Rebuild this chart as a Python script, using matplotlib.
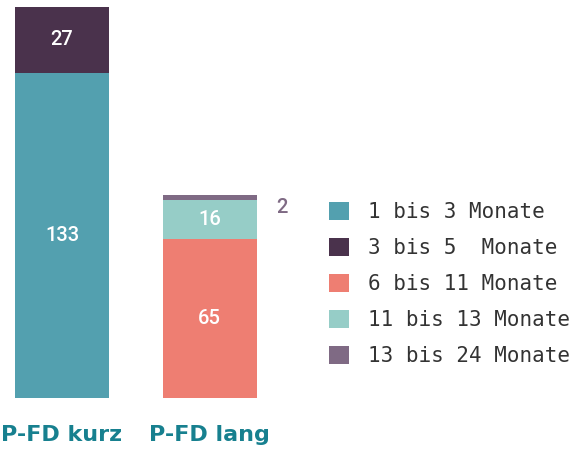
import matplotlib.pyplot as plt
import numpy as np

groups = ["P-FD kurz", "P-FD lang"]
series_labels = ["1 bis 3 Monate", "3 bis 5  Monate", "6 bis 11 Monate",
                 "11 bis 13 Monate", "13 bis 24 Monate"]
series_values = [
    [133, 0],
    [27, 0],
    [0, 65],
    [0, 16],
    [0, 2],
]
colors = ["#53a0af", "#4a324c", "#ee7e72", "#96cdc7", "#7f6a84"]

W, H = 584, 451
fig = plt.figure(figsize=(W / 100, H / 100), dpi=100)

# axes placed in pixels: baseline at y=398, top of 160 at y=7
ax = fig.add_axes([0, (H - 398) / H, 1, (398 - 7) / H])
px_per_unit = 147.5
x0 = 62
ax.set_xlim(-x0 / px_per_unit, (W - x0) / px_per_unit)
ax.set_ylim(0, 160)
ax.axis("off")

x = np.arange(len(groups))
bottom = np.zeros(len(groups))
handles = []
for lab, vals, c in zip(series_labels, series_values, colors):
    vals = np.array(vals, dtype=float)
    b = ax.bar(x, vals, bottom=bottom, width=94 / px_per_unit, color=c,
               label=lab, linewidth=0)
    handles.append(b)
    for xi, v, bt in zip(x, vals, bottom):
        if v >= 10:
            ax.text(xi, bt + v / 2, str(int(v)), ha="center", va="center",
                    color="white", fontsize=14.5, family="Roboto",
                    fontweight="medium")
        elif v > 0:
            ax.text(xi + 0.49, bt + v - 5, str(int(v)), ha="center", va="center",
                    color=c, fontsize=14.5, family="Roboto", fontweight="medium")
    bottom = bottom + vals

for xi, g in zip(x, groups):
    ax.text(xi, -15, g, ha="center", va="center", color="#17808f",
            fontsize=16, fontweight="semibold")

leg = fig.legend(handles=handles, labels=series_labels,
                 loc="upper left", bbox_to_anchor=(329 / W, 1 - 202 / H),
                 frameon=False, prop={"family": "DejaVu Sans Mono", "size": 15},
                 handlelength=0.95, handleheight=0.95, handletextpad=0.9,
                 labelspacing=0.76, borderaxespad=0, borderpad=0)
for t in leg.get_texts():
    t.set_color("#333333")

fig.savefig("out.png", dpi=100)
